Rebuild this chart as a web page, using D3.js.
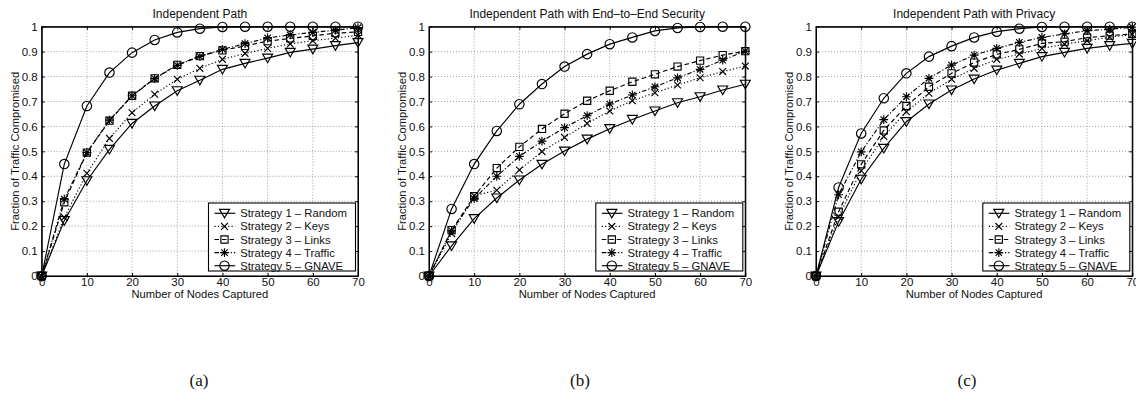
<!DOCTYPE html>
<html>
<head>
<meta charset="utf-8">
<script src="https://cdn.jsdelivr.net/npm/d3@7"></script>
<style>
  html, body { margin: 0; padding: 0; background: #fff; }
  svg { display: block; }
  text { font-family: "Liberation Sans", Arial, Helvetica, sans-serif; fill: #111; }
  .caption { font-family: "Liberation Serif", "DejaVu Serif", serif; }
</style>
</head>
<body>
<svg id="fig" width="1136" height="396"></svg>
<script>
// Number of nodes captured (x values shared by every curve)
const nodesCaptured = [0, 5, 10, 15, 20, 25, 30, 35, 40, 45, 50, 55, 60, 65, 70];
const xTicks = [0, 10, 20, 30, 40, 50, 60, 70];
const yTicks = [0, 0.1, 0.2, 0.3, 0.4, 0.5, 0.6, 0.7, 0.8, 0.9, 1];
const strategyNames = ["Strategy 1 – Random", "Strategy 2 – Keys", "Strategy 3 – Links", "Strategy 4 – Traffic", "Strategy 5 – GNAVE"];
const panelTitles = ["Independent Path", "Independent Path with End–to–End Security", "Independent Path with Privacy"];
const panelCaptions = ["(a)", "(b)", "(c)"];

// (a) Independent Path
const pathRandom  = [0, 0.222, 0.382, 0.508, 0.612, 0.682, 0.743, 0.785, 0.829, 0.853, 0.874, 0.897, 0.910, 0.924, 0.936];
const pathKeys    = [0, 0.235, 0.412, 0.552, 0.655, 0.729, 0.789, 0.833, 0.869, 0.893, 0.913, 0.931, 0.944, 0.954, 0.966];
const pathLinks   = [0, 0.296, 0.495, 0.623, 0.723, 0.793, 0.847, 0.882, 0.905, 0.923, 0.942, 0.953, 0.963, 0.974, 0.979];
const pathTraffic = [0, 0.308, 0.495, 0.625, 0.723, 0.792, 0.845, 0.881, 0.909, 0.932, 0.955, 0.967, 0.977, 0.986, 0.996];
const pathGnave   = [0, 0.449, 0.682, 0.816, 0.896, 0.947, 0.977, 0.992, 0.999, 1, 1, 1, 1, 1, 1];

// (b) Independent Path with End-to-End Security
const e2eRandom  = [0, 0.121, 0.230, 0.313, 0.385, 0.448, 0.501, 0.549, 0.591, 0.628, 0.662, 0.695, 0.719, 0.746, 0.769];
const e2eKeys    = [0, 0.170, 0.322, 0.344, 0.425, 0.499, 0.556, 0.612, 0.662, 0.703, 0.735, 0.766, 0.795, 0.820, 0.842];
const e2eLinks   = [0, 0.184, 0.320, 0.433, 0.518, 0.590, 0.651, 0.703, 0.743, 0.779, 0.809, 0.840, 0.864, 0.886, 0.902];
const e2eTraffic = [0, 0.182, 0.310, 0.400, 0.480, 0.541, 0.595, 0.643, 0.690, 0.726, 0.759, 0.795, 0.829, 0.866, 0.902];
const e2eGnave   = [0, 0.269, 0.449, 0.582, 0.689, 0.770, 0.840, 0.890, 0.930, 0.957, 0.983, 0.995, 0.999, 1, 1];

// (c) Independent Path with Privacy
const privRandom  = [0, 0.218, 0.388, 0.512, 0.619, 0.690, 0.746, 0.790, 0.826, 0.853, 0.880, 0.897, 0.913, 0.924, 0.933];
const privKeys    = [0, 0.238, 0.422, 0.560, 0.659, 0.733, 0.789, 0.833, 0.869, 0.890, 0.913, 0.930, 0.944, 0.958, 0.969];
const privLinks   = [0, 0.258, 0.448, 0.584, 0.682, 0.759, 0.813, 0.856, 0.889, 0.909, 0.933, 0.940, 0.956, 0.964, 0.971];
const privTraffic = [0, 0.326, 0.498, 0.627, 0.719, 0.793, 0.846, 0.886, 0.913, 0.937, 0.957, 0.971, 0.984, 0.990, 0.998];
const privGnave   = [0, 0.355, 0.572, 0.713, 0.813, 0.880, 0.922, 0.957, 0.980, 0.992, 0.999, 1, 1, 1, 1];

const panelSeries = [
  [pathRandom, pathKeys, pathLinks, pathTraffic, pathGnave],
  [e2eRandom, e2eKeys, e2eLinks, e2eTraffic, e2eGnave],
  [privRandom, privKeys, privLinks, privTraffic, privGnave]
];

// ---- layout ----
const plotLefts = [41.7, 429, 816];
const plotWidth = 316.3;
const plotTop = 26.7, plotBottom = 276;
const captionX = [199, 580, 967];

// line styles: solid, dotted, dashed, dash-dot, solid
const dashes = [null, "1.2,2.2", "4.5,3", "4.5,2,1.2,2", null];
const markerKinds = ["triDown", "cross", "square", "star", "circle"];
const lineW = 1.15;

function markerPath(kind) {
  const p = d3.path();
  if (kind === "triDown") {
    p.moveTo(-5, -4); p.lineTo(5, -4); p.lineTo(0, 4.6); p.closePath();
  } else if (kind === "cross") {
    p.moveTo(-3.4, -3.4); p.lineTo(3.4, 3.4); p.moveTo(-3.4, 3.4); p.lineTo(3.4, -3.4);
  } else if (kind === "square") {
    p.rect(-3.6, -3.6, 7.2, 7.2);
  } else if (kind === "star") {
    p.moveTo(-4.4, 0); p.lineTo(4.4, 0); p.moveTo(0, -4.4); p.lineTo(0, 4.4);
    p.moveTo(-3.2, -3.2); p.lineTo(3.2, 3.2); p.moveTo(-3.2, 3.2); p.lineTo(3.2, -3.2);
  } else {
    p.arc(0, 0, 4.7, 0, 2 * Math.PI);
  }
  return p.toString();
}

const svg = d3.select("#fig");

panelSeries.forEach((seriesList, pi) => {
  const x = d3.scaleLinear().domain([0, 70]).range([plotLefts[pi], plotLefts[pi] + plotWidth]);
  const y = d3.scaleLinear().domain([0, 1]).range([plotBottom, plotTop]);
  const g = svg.append("g");

  // grid
  g.append("g").selectAll("line").data(xTicks.slice(1, -1)).join("line")
    .attr("x1", d => x(d)).attr("x2", d => x(d))
    .attr("y1", plotTop).attr("y2", plotBottom)
    .attr("stroke", "#888").attr("stroke-width", 0.8).attr("stroke-dasharray", "1,2");
  g.append("g").selectAll("line").data(yTicks.slice(1, -1)).join("line")
    .attr("x1", x(0)).attr("x2", x(70))
    .attr("y1", d => y(d)).attr("y2", d => y(d))
    .attr("stroke", "#888").attr("stroke-width", 0.8).attr("stroke-dasharray", "1,2");

  // curves
  const line = d3.line().x((d, i) => x(nodesCaptured[i])).y(d => y(d));
  seriesList.forEach((vals, si) => {
    g.append("path").datum(vals)
      .attr("d", line)
      .attr("fill", "none").attr("stroke", "#000").attr("stroke-width", lineW)
      .attr("stroke-dasharray", dashes[si]);
    g.append("g").selectAll("path").data(vals).join("path")
      .attr("transform", (d, i) => `translate(${x(nodesCaptured[i])},${y(d)})`)
      .attr("d", markerPath(markerKinds[si]))
      .attr("fill", "none").attr("stroke", "#000").attr("stroke-width", lineW);
  });

  // axes with inward ticks
  const fmt = d => d === 0 || d === 1 ? String(d) : d3.format(".1f")(d);
  const axB = g.append("g").attr("transform", `translate(0,${plotBottom})`)
    .call(d3.axisBottom(x).tickValues(xTicks).tickSizeInner(-3).tickSizeOuter(0).tickPadding(2));
  const axL = g.append("g").attr("transform", `translate(${x(0)},0)`)
    .call(d3.axisLeft(y).tickValues(yTicks).tickFormat(fmt).tickSizeInner(-3).tickSizeOuter(0).tickPadding(4));
  g.append("g").attr("transform", `translate(0,${plotTop})`)
    .call(d3.axisTop(x).tickValues(xTicks).tickSizeInner(-3).tickSizeOuter(0).tickFormat(""));
  g.append("g").attr("transform", `translate(${x(70)},0)`)
    .call(d3.axisRight(y).tickValues(yTicks).tickSizeInner(-3).tickSizeOuter(0).tickFormat(""));
  g.selectAll(".domain").attr("stroke", "#000");
  g.selectAll(".tick line").attr("stroke", "#000");
  axB.selectAll("text").attr("font-size", 11.5).attr("fill", "#111");
  axL.selectAll("text").attr("font-size", 11.5).attr("fill", "#111");

  // frame
  g.append("rect").attr("x", x(0)).attr("y", plotTop)
    .attr("width", x(70) - x(0)).attr("height", plotBottom - plotTop)
    .attr("fill", "none").attr("stroke", "#000").attr("stroke-width", 1.1);

  // titles and labels
  const cx = (x(0) + x(70)) / 2;
  g.append("text").attr("x", cx).attr("y", 18).attr("text-anchor", "middle")
    .attr("font-size", 12).text(panelTitles[pi]);
  g.append("text").attr("x", cx).attr("y", 298).attr("text-anchor", "middle")
    .attr("font-size", 11.2).text("Number of Nodes Captured");
  g.append("text")
    .attr("transform", `translate(${x(0) - 23},${(plotTop + plotBottom) / 2}) rotate(-90)`)
    .attr("text-anchor", "middle").attr("font-size", 11.2).text("Fraction of Traffic Compromised");

  // legend
  const legW = 147, legH = 68;
  const legX = x(70) - 2.5 - legW, legY = 203;
  const leg = g.append("g").attr("transform", `translate(${legX},${legY})`);
  leg.append("rect").attr("width", legW).attr("height", legH)
    .attr("fill", "#fff").attr("stroke", "#000").attr("stroke-width", 1.1);
  strategyNames.forEach((name, si) => {
    const ry = 10.3 + si * 13.1;
    leg.append("line").attr("x1", 6).attr("x2", 26.7).attr("y1", ry).attr("y2", ry)
      .attr("stroke", "#000").attr("stroke-width", lineW).attr("stroke-dasharray", dashes[si]);
    leg.append("path").attr("transform", `translate(16,${ry})`)
      .attr("d", markerPath(markerKinds[si]))
      .attr("fill", "none").attr("stroke", "#000").attr("stroke-width", lineW);
    leg.append("text").attr("x", 31.7).attr("y", ry + 4).attr("font-size", 11.3).text(name);
  });

  // subfigure caption
  svg.append("text").attr("class", "caption").attr("x", captionX[pi]).attr("y", 386)
    .attr("text-anchor", "middle").attr("font-size", 17).text(panelCaptions[pi]);
});
</script>
</body>
</html>
